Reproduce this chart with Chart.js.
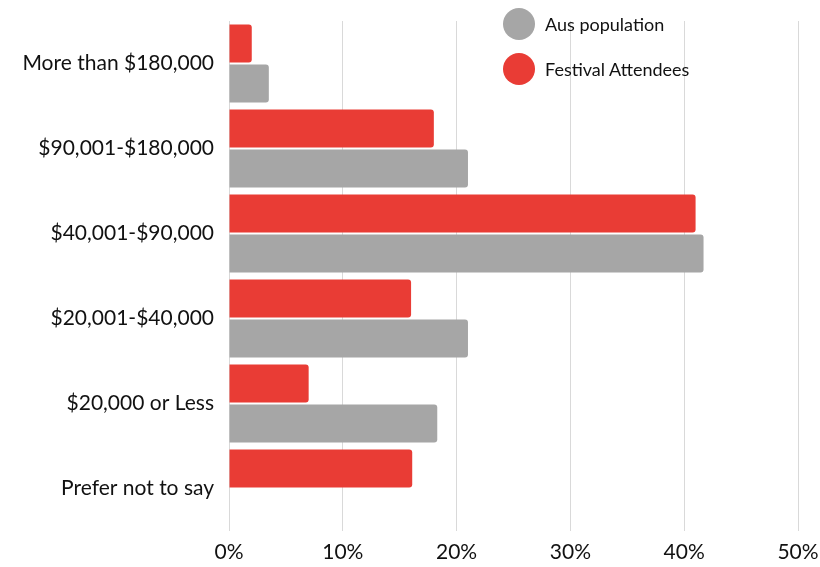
<!DOCTYPE html>
<html>
<head>
<meta charset="utf-8">
<script src="https://cdn.jsdelivr.net/npm/chart.js@4"></script>
<style>
  html, body { margin: 0; padding: 0; background: #fff; }
  #wrap { position: relative; width: 820px; height: 567px; }
  .lg { position: absolute; left: 503px; font: 18px Lato, sans-serif; color: #111; display: flex; align-items: center; }
  .lg i { display: inline-block; width: 32px; height: 32px; border-radius: 50%; margin-right: 10px; }
</style>
</head>
<body>
<div id="wrap">
  <canvas id="ch" width="820" height="567"></canvas>
  <div class="lg" style="top:8px"><i style="background:#a6a6a6"></i>Aus population</div>
  <div class="lg" style="top:53px"><i style="background:#e93c35"></i>Festival Attendees</div>
</div>
<script>
// categories + values (percent)
const cats = ['More than $180,000', '$90,001-$180,000', '$40,001-$90,000', '$20,001-$40,000', '$20,000 or Less', 'Prefer not to say'];
const festival = [2, 18, 41, 16, 7, 16.1];
const ausPop   = [3.5, 21, 41.7, 21, 18.3, null];
const xTicks   = [0, 10, 20, 30, 40, 50];

const RED = '#e93c35', GREY = '#a6a6a6';
const FONT = { family: 'Lato, sans-serif', size: 21 };

new Chart(document.getElementById('ch'), {
  type: 'bar',
  data: {
    labels: cats,
    datasets: [
      { label: 'Festival Attendees', data: festival, backgroundColor: RED, borderRadius: 3, barPercentage: 0.95, categoryPercentage: 0.94 },
      { label: 'Aus population', data: ausPop, backgroundColor: GREY, borderRadius: 3, barPercentage: 0.95, categoryPercentage: 0.94 }
    ]
  },
  options: {
    indexAxis: 'y',
    responsive: false,
    animation: false,
    layout: { padding: { top: 21, right: 22, left: 0, bottom: 0 } },
    plugins: { legend: { display: false }, tooltip: { enabled: false } },
    scales: {
      x: {
        min: 0, max: 50,
        afterBuildTicks: s => { s.ticks = xTicks.map(v => ({ value: v })); },
        afterFit: s => { s.height = 36; s.paddingLeft = 0; s.paddingRight = 0; },
        grid: { color: '#d9d9d9', drawTicks: false },
        border: { display: false },
        ticks: { color: '#111', font: FONT, padding: 9, callback: v => v + '%' }
      },
      y: {
        afterFit: s => { s.width = 229; s.paddingTop = 0; s.paddingBottom = 0; },
        grid: { display: false, drawTicks: false },
        border: { display: false },
        ticks: { color: '#111', font: FONT, padding: 15 }
      }
    }
  }
});
</script>
</body>
</html>
